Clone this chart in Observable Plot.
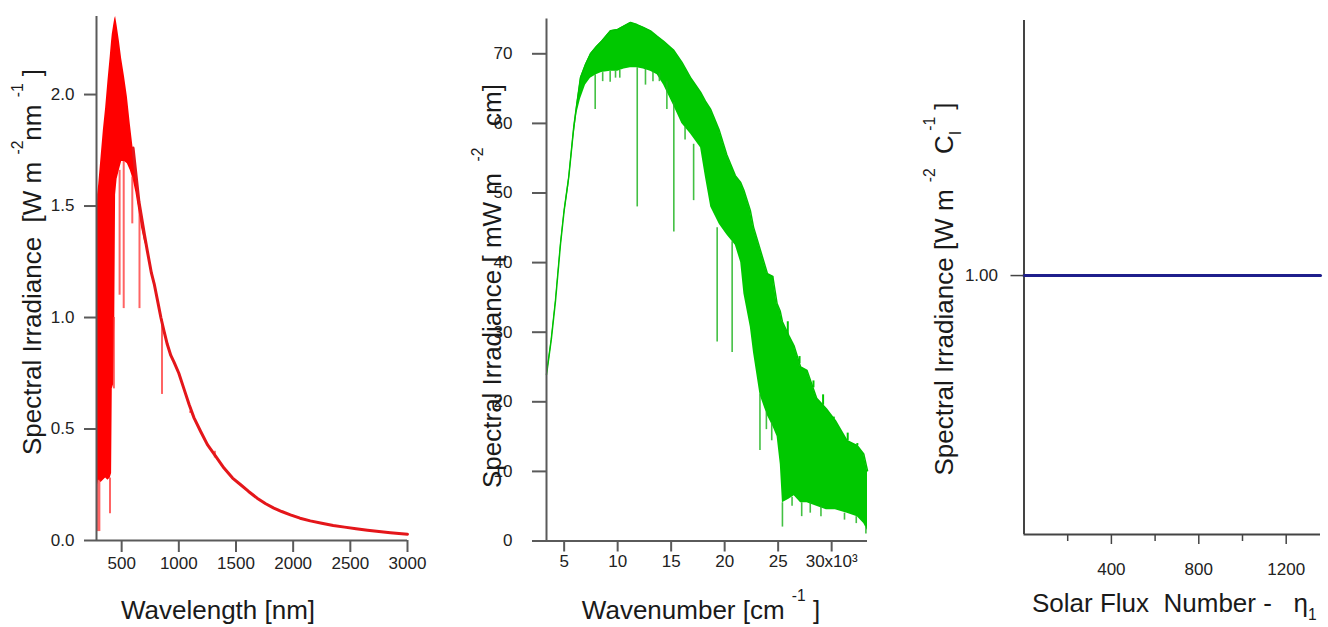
<!DOCTYPE html>
<html><head><meta charset="utf-8">
<script src="https://cdn.jsdelivr.net/npm/d3@7"></script>
<script src="https://cdn.jsdelivr.net/npm/@observablehq/plot@0.6"></script>
<style>
body{margin:0;background:#fff;width:1328px;height:627px;overflow:hidden;position:relative;}
.panel{position:absolute;top:0;}
svg text{white-space:pre;}
</style></head><body>
<div id="p1" class="panel" style="left:0px"></div>
<div id="p2" class="panel" style="left:440px"></div>
<div id="p3" class="panel" style="left:890px"></div>
<script>
// ---------- Panel 1: spectral irradiance vs wavelength ----------
const wlBand   = [280, 283, 290, 300, 320, 340, 360, 380, 400, 412, 418, 430, 440, 447, 460, 480, 500, 525, 550, 575, 600, 625, 650, 675, 700, 715];
const irrBandLo = [0.05,0.04,0.25,0.27,0.26,0.27,0.28,0.27,0.28,0.30,0.68,0.70,1.00,1.55,1.62,1.66,1.70,1.70,1.69,1.66,1.62,1.56,1.48,1.40,1.34,1.32];
const irrBandHi = [0.30,1.30,1.55,1.60,1.72,1.84,1.94,2.06,2.17,2.24,2.27,2.31,2.34,2.35,2.31,2.24,2.16,2.08,1.99,1.87,1.76,1.64,1.52,1.44,1.37,1.33];
const wlCurve  = [600, 651, 700, 724, 760, 785, 820, 843, 870, 899, 930, 958, 1000, 1045, 1090, 1133, 1190, 1250, 1320, 1395, 1470, 1541, 1610, 1685, 1760, 1831, 1900, 1976, 2060, 2150, 2250, 2350, 2450, 2550, 2650, 2750, 2850, 2950, 3000];
const irrCurve = [1.76, 1.52, 1.37, 1.30, 1.20, 1.15, 1.06, 1.00, 0.94, 0.88, 0.83, 0.80, 0.75, 0.68, 0.61, 0.55, 0.49, 0.43, 0.38, 0.325, 0.28, 0.25, 0.22, 0.19, 0.165, 0.145, 0.13, 0.115, 0.10, 0.088, 0.077, 0.067, 0.060, 0.053, 0.046, 0.040, 0.035, 0.030, 0.028];
const wlDip    = [290, 305, 398, 432, 482, 518, 593, 656, 853, 1100, 1315];
const irrDipLo = [0.04, 0.04, 0.12, 0.68, 1.10, 1.04, 1.42, 1.04, 0.655, 0.57, 0.37];
const irrDipHi = [0.27, 0.27, 0.28, 1.00, 1.66, 1.70, 1.63, 1.48, 0.99, 0.58, 0.40];
const wlTicks  = [500, 1000, 1500, 2000, 2500, 3000];
const irrTicks = [0, 0.5, 1.0, 1.5, 2.0];

// ---------- Panel 2: spectral irradiance vs wavenumber (x10^3 cm-1) ----------
const wnBand  = [3.35, 3.8, 4.19, 4.66, 5.0, 5.43, 5.9, 6.2, 6.53, 7.0, 7.46, 8.0, 8.5, 9.33, 10.0, 10.6, 11.2, 11.8, 12.4, 13.07, 13.7, 14.3, 15.25, 16.0, 16.8, 17.75, 18.2, 18.7, 19.5, 20.2, 21.0, 21.5, 21.8, 22.4, 22.7, 23.3, 24.0, 24.5, 24.9, 25.2, 25.4, 26.0, 26.5, 27.1, 27.7, 28.6, 29.5, 30.35, 31.45, 32.4, 33.0, 33.35];
const mwHi    = [23.9, 29.0, 34.5, 42.7, 47.5, 52.3, 59.5, 63.0, 66.6, 68.5, 70.0, 71.0, 71.8, 73.3, 73.5, 74.0, 74.5, 74.2, 73.8, 73.3, 72.5, 71.8, 70.5, 68.8, 66.6, 64.5, 63.2, 62.0, 59.0, 55.5, 52.5, 51.5, 50.4, 47.5, 45.1, 42.0, 38.4, 38.0, 34.1, 33.0, 31.5, 29.5, 28.0, 25.0, 24.5, 20.5, 19.0, 17.3, 14.4, 13.7, 12.5, 10.1];
const mwLo    = [23.0, 28.0, 33.5, 41.5, 46.5, 51.0, 58.0, 61.5, 63.5, 65.5, 66.5, 67.0, 67.3, 67.5, 67.5, 67.8, 68.0, 68.0, 67.8, 67.5, 67.0, 65.5, 62.5, 60.0, 58.5, 56.5, 52.3, 48.0, 45.5, 44.0, 42.5, 40.0, 35.5, 30.7, 27.0, 21.0, 18.0, 16.5, 15.0, 11.0, 5.5, 6.0, 6.5, 5.5, 5.5, 5.0, 4.5, 4.5, 4.0, 3.5, 2.5, 1.5];
const wnSpike   = [7.9, 8.6, 9.3, 9.8, 10.2, 11.83, 12.6, 13.3, 13.9, 14.6, 15.25, 16.3, 17.1, 19.3, 20.7, 23.3, 23.9, 24.4, 25.4, 26.3, 27.2, 28.0, 29.0, 30.0, 31.2, 32.3, 33.2];
const mwSpikeLo = [62, 66, 65.9, 66.5, 66.5, 48.0, 65.5, 66, 66, 62, 44.4, 57.6, 48.9, 28.6, 27.1, 13, 16, 14.4, 2.0, 5.0, 3.5, 4.0, 3.5, 4.5, 3.0, 2.5, 1.0];
const mwSpikeHi = [67, 67.3, 67.5, 67.5, 67.6, 68, 67.8, 67.5, 67.2, 66, 63, 59.5, 57, 45, 43, 21, 18.5, 17, 5.5, 6.3, 5.5, 5.5, 5, 4.5, 4, 3.5, 2];
const wnUp      = [24.45, 25.9, 26.3, 27.0, 28.3, 29.2, 30.2, 31.5, 32.4];
const mwUpLo    = [37.0, 29.5, 28.5, 25.5, 22.0, 19.5, 17.8, 14.4, 13.7];
const mwUpHi    = [38.0, 31.5, 28.0, 26.5, 23.0, 21.0, 17.5, 15.5, 14.0];
const wnTicks = [5, 10, 15, 20, 25, 30];
const mwTicks = [0, 10, 20, 30, 40, 50, 60, 70];

// ---------- Panel 3: normalised irradiance vs solar flux number ----------
const fluxNum   = [0, 200, 400, 600, 800, 1000, 1200, 1357];
const fluxIrr   = [1.00, 1.00, 1.00, 1.00, 1.00, 1.00, 1.00, 1.00];
const fluxMajor = [400, 800, 1200];
const fluxMinor = [200, 600, 1000];
const fluxYTicks = [1.00];

// ---------- tables ----------
const leftBand  = wlBand.map((wl, i) => ({wl, lo: irrBandLo[i], hi: irrBandHi[i]}));
const leftCurve = wlCurve.map((wl, i) => ({wl, v: irrCurve[i]}));
const leftDips  = wlDip.map((wl, i) => ({wl, lo: irrDipLo[i], hi: irrDipHi[i]}));
const midBand   = wnBand.map((wn, i) => ({wn, lo: mwLo[i], hi: mwHi[i]}));
const midSpikes = wnSpike.map((wn, i) => ({wn, lo: mwSpikeLo[i], hi: mwSpikeHi[i]}));
const midUp     = wnUp.map((wn, i) => ({wn, lo: mwUpLo[i], hi: mwUpHi[i]}));
const flux      = fluxNum.map((n, i) => ({n, v: fluxIrr[i]}));

const fontFamily = '"Liberation Sans", Arial, Helvetica, sans-serif';
const axisColor = "#5a5a5a";
const tickFont = 17;
const labelFont = 26;
const baseStyle = {fontFamily, fontSize: tickFont + "px", color: "#222", background: "transparent", overflow: "visible"};
const plain = d => String(d);

function addLabel(svg, parts, {x, y, rotate = 0, anchor = "middle", size = labelFont}) {
  const t = d3.select(svg).append("text")
    .attr("transform", `translate(${x},${y}) rotate(${rotate})`)
    .attr("text-anchor", anchor)
    .attr("font-size", size)
    .attr("font-family", fontFamily)
    .attr("fill", "#1a1a1a");
  let shift = 0;
  for (const [s, kind] of parts) {
    const target = kind === "sup" ? -0.7 * size : kind === "sub" ? 0.3 * size : 0;
    const ts = t.append("tspan").text(s).attr("dy", target - shift);
    if (kind) ts.attr("font-size", size * 0.6);
    shift = target;
  }
}

// Panel 1
const p1 = Plot.plot({
  width: 440, height: 627,
  marginLeft: 96, marginRight: 33, marginTop: 16, marginBottom: 87,
  x: {domain: [280, 3000]}, y: {domain: [0, 2.35]},
  style: baseStyle,
  marks: [
    Plot.areaY(leftBand, {x: "wl", y1: "lo", y2: "hi", fill: "#ff0000", curve: "linear"}),
    Plot.ruleX(leftDips, {x: "wl", y1: "lo", y2: "hi", stroke: "#ff3030", strokeWidth: 2, strokeOpacity: 0.75}),
    Plot.line(leftCurve, {x: "wl", y: "v", stroke: "#e4161a", strokeWidth: 3}),
    Plot.ruleY([0], {stroke: axisColor, strokeWidth: 2}),
    Plot.ruleX([280], {stroke: axisColor, strokeWidth: 2}),
    Plot.axisX({ticks: wlTicks, tickFormat: plain, tickSize: 12, tickPadding: 4, label: null, stroke: axisColor, strokeWidth: 2, fontSize: tickFont}),
    Plot.axisY({ticks: irrTicks, tickFormat: d3.format(".1f"), tickSize: 12, tickPadding: 10, label: null, stroke: axisColor, strokeWidth: 2, fontSize: tickFont})
  ]
});
document.getElementById("p1").append(p1);
addLabel(p1, [["Spectral Irradiance  [W m "], ["-2", "sup"], ["nm "], ["-1", "sup"], [" ]"]], {x: 41, y: 262, rotate: -90});
addLabel(p1, [["Wavelength [nm]"]], {x: 218, y: 619});

// Panel 2
const p2 = Plot.plot({
  width: 450, height: 627,
  marginLeft: 106, marginRight: 23, marginTop: 18.5, marginBottom: 86.5,
  x: {domain: [3.35, 33.35]}, y: {domain: [0, 75]},
  style: baseStyle,
  marks: [
    Plot.areaY(midBand, {x: "wn", y1: "lo", y2: "hi", fill: "#00c800", curve: "linear"}),
    Plot.ruleX(midSpikes, {x: "wn", y1: "lo", y2: "hi", stroke: "#22b522", strokeWidth: 1.6, strokeOpacity: 0.85}),
    Plot.ruleX(midUp, {x: "wn", y1: "lo", y2: "hi", stroke: "#00c800", strokeWidth: 2}),
    Plot.line(midBand, {x: "wn", y: "hi", stroke: "#00c000", strokeWidth: 1.5}),
    Plot.ruleY([0], {stroke: axisColor, strokeWidth: 2}),
    Plot.ruleX([3.35], {stroke: axisColor, strokeWidth: 2}),
    Plot.axisX({ticks: wnTicks, tickFormat: d => d === 30 ? "30x10³" : String(d), tickSize: 11, tickPadding: 3, label: null, stroke: axisColor, strokeWidth: 2, fontSize: tickFont}),
    Plot.axisY({ticks: mwTicks, tickFormat: plain, tickSize: 14, tickPadding: 20, label: null, stroke: axisColor, strokeWidth: 2, fontSize: tickFont})
  ]
});
document.getElementById("p2").append(p2);
addLabel(p2, [["Spectral Irradiance [ mW m "], [" -2", "sup"], ["   cm]"]], {x: 61, y: 286, rotate: -90});
addLabel(p2, [["Wavenumber [cm "], ["-1", "sup"], [" ]"]], {x: 261, y: 619});

// Panel 3
const p3 = Plot.plot({
  width: 438, height: 627,
  marginLeft: 133.5, marginRight: 8, marginTop: 20, marginBottom: 93,
  x: {domain: [0, 1357]}, y: {domain: [0, 1.985]},
  style: baseStyle,
  marks: [
    Plot.ruleY([0], {stroke: "#444", strokeWidth: 2}),
    Plot.ruleX([0], {stroke: "#444", strokeWidth: 2}),
    Plot.line(flux, {x: "n", y: "v", stroke: "#1f1f8c", strokeWidth: 3}),
    Plot.axisX({ticks: fluxMajor, tickFormat: plain, tickSize: 10, tickPadding: 18, label: null, stroke: "#444", strokeWidth: 1.5, fontSize: tickFont}),
    Plot.axisX({ticks: fluxMinor, tickSize: 7, tickFormat: () => "", label: null, stroke: "#444", strokeWidth: 1.5}),
    Plot.axisY({ticks: fluxYTicks, tickFormat: d3.format(".2f"), tickSize: 13, tickPadding: 13, label: null, stroke: "#444", strokeWidth: 1.5, fontSize: tickFont})
  ]
});
document.getElementById("p3").append(p3);
addLabel(p3, [["Spectral Irradiance [W m "], ["-2", "sup"], ["  C"], ["I", "sub"], ["-1", "sup"], [" ]"]], {x: 63, y: 289, rotate: -90});
addLabel(p3, [["Solar Flux  Number -   η"], ["1", "sub"]], {x: 142, y: 612, anchor: "start"});
</script>
</body></html>
